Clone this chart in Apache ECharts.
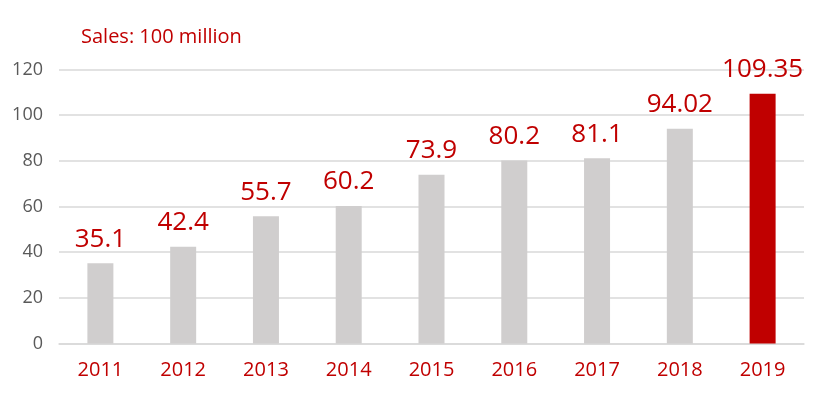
<!DOCTYPE html>
<html><head><meta charset="utf-8">
<script src="https://cdn.jsdelivr.net/npm/echarts@6/dist/echarts.min.js"></script>
<style>html,body{margin:0;padding:0;background:#fff}#c{width:822px;height:395px}</style>
</head><body><div id="c"></div>
<script>
const categories = ['2011','2012','2013','2014','2015','2016','2017','2018','2019'];
const sales = [35.1, 42.4, 55.7, 60.2, 73.9, 80.2, 81.1, 94.02, 109.35];
const labels = ['35.1','42.4','55.7','60.2','73.9','80.2','81.1','94.02','109.35'];
const yTicks = [0, 20, 40, 60, 80, 100, 120];
const highlightIndex = 8;

const RED = '#C00000';
const FONT = '"Open Sans", sans-serif';
const chart = echarts.init(document.getElementById('c'));
chart.setOption({
  animation: false,
  title: {
    text: 'Sales: 100 million', left: 76, top: 22,
    textStyle: { color: RED, fontSize: 20, fontWeight: 'normal', fontFamily: FONT }
  },
  grid: { left: 59, right: 18, top: 69.5, bottom: 51.5 },
  xAxis: {
    type: 'category', data: categories,
    axisTick: { show: false },
    axisLine: { lineStyle: { color: '#d9d9d9', width: 1.5 } },
    axisLabel: { color: RED, fontSize: 20, fontFamily: FONT, margin: 17 }
  },
  yAxis: {
    type: 'value', min: yTicks[0], max: yTicks[yTicks.length - 1], interval: 20,
    axisLine: { show: false }, axisTick: { show: false },
    splitLine: { lineStyle: { color: '#d9d9d9', width: 1.5 } },
    axisLabel: { color: '#595959', fontSize: 18, fontFamily: FONT, margin: 16 }
  },
  series: [{
    type: 'bar', barWidth: 26,
    data: sales.map((v, i) => ({
      value: v,
      itemStyle: { color: i === highlightIndex ? RED : '#D0CECE' },
      label: { formatter: labels[i] }
    })),
    label: {
      show: true, position: 'top', distance: 11,
      color: RED, fontSize: 26, fontFamily: FONT
    }
  }]
});
</script></body></html>
